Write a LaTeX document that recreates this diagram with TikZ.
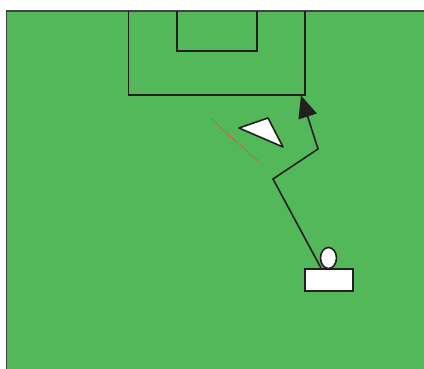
\documentclass[tikz,border=0pt]{standalone}
\usetikzlibrary{arrows.meta,shapes.geometric}
\definecolor{pitch}{RGB}{82,184,90}
\definecolor{ink}{RGB}{35,31,32}
\definecolor{dotred}{RGB}{235,70,55}
\tikzset{
  line/.style={draw=ink,line width=1.6pt},
  whitebox/.style={draw=ink,fill=white,line width=1.6pt,inner sep=0pt},
}
\begin{document}
\begin{tikzpicture}[x=1pt,y=-1pt]
\useasboundingbox (0,0) rectangle (424,369);
\fill[pitch] (6.5,11) rectangle (424,369);
\draw[ink!85,line width=1.4pt] (6.5,369) -- (6.5,11) -- (424,11);
% penalty box and goal area
\draw[line] (128.5,11) -- (128.5,95) -- (305,95) -- (305,11);
\draw[line] (177,11) -- (177,51) -- (257,51) -- (257,11);
% cone
\draw[whitebox,line join=round] (239,128) -- (268,118) -- (283,147) -- cycle;
% dotted line
\draw[dotred,line width=1.3pt,dash pattern=on 1.2pt off 2pt] (211,119) -- (258,161);
% player
\node[whitebox,minimum width=48pt,minimum height=22pt] (base) at (329,280) {};
\node[whitebox,ellipse,minimum width=16pt,minimum height=21pt] (ball) at (328.5,258) {};
\coordinate (start) at (321,268);
\coordinate (p1) at (273,179);
\coordinate (p2) at (318,149);
\coordinate (tip) at (301,95.5);
\draw[line,line join=miter,-{Triangle[length=22pt,width=19pt]}] (start) -- (p1) -- (p2) -- (tip);
\end{tikzpicture}
\end{document}
